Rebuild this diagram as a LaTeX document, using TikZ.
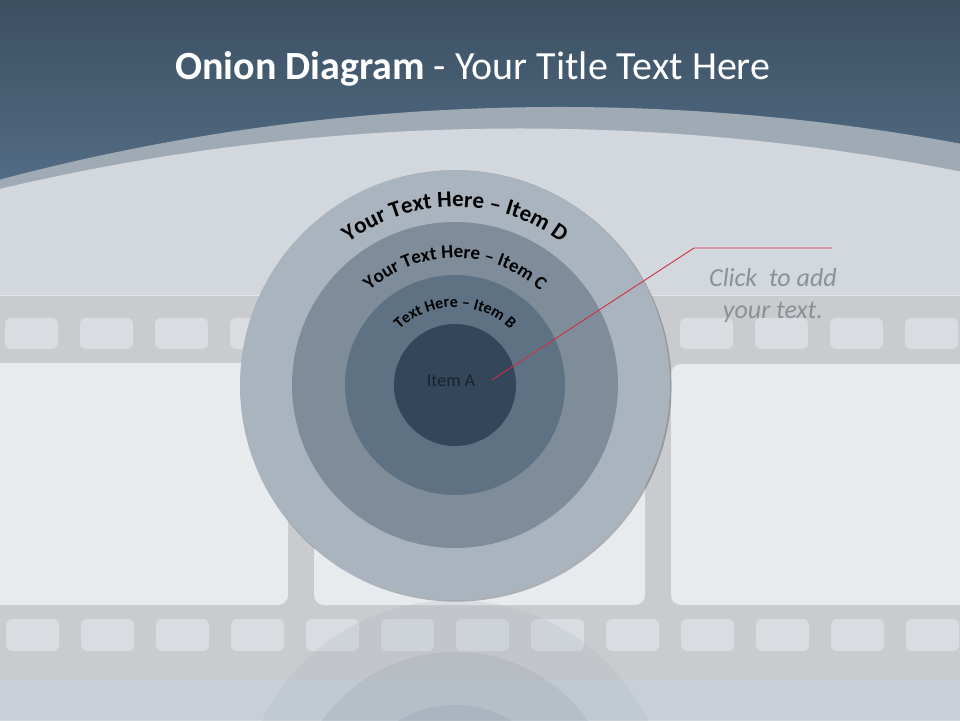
\documentclass[tikz,border=0pt]{standalone}
\usepackage{fontspec}
\setmainfont{Carlito}
\usetikzlibrary{decorations.text}
\definecolor{hdrtop}{HTML}{3B4F61}
\definecolor{hdrbot}{HTML}{526C84}
\definecolor{bandc}{HTML}{A0AAB4}
\definecolor{lightc}{HTML}{D3D8DE}
\definecolor{stripc}{HTML}{C9CBCE}
\definecolor{holec}{HTML}{D9DDE2}
\definecolor{framec}{HTML}{E8EBEE}
\definecolor{bottomc}{HTML}{C8CFD7}
\definecolor{cD}{HTML}{AAB4BE}
\definecolor{cC}{HTML}{7F8D9A}
\definecolor{cB}{HTML}{5F7283}
\definecolor{cA}{HTML}{34475A}
\definecolor{clickgray}{HTML}{8C9097}
\definecolor{redl}{HTML}{D03040}
\definecolor{itemtext}{HTML}{18222C}
\tikzset{
  ring/.style={circle, inner sep=0pt, outer sep=0pt, draw=none},
  holebox/.style={fill=holec, rounded corners=6pt},
  framebox/.style={fill=framec, rounded corners=10pt},
  redline/.style={draw=redl, line width=0.9pt},
  arctext/.style={decorate, decoration={text along path, text align=center, text color=black}},
  clicktext/.style={anchor=base, text=clickgray, font=\itshape\fontsize{26}{30}\selectfont},
}
\begin{document}
\begin{tikzpicture}[x=1pt,y=1pt]
\useasboundingbox (0,0) rectangle (960,720);
\begin{scope}
\clip (0,0) rectangle (960,720);
% header gradient
\fill[hdrbot] (0,0) rectangle (960,720);
\shade[top color=hdrtop, bottom color=hdrbot] (0,540) rectangle (960,720);
% band and light region
\fill[bandc] (560,-1567) circle[radius=2180];
\fill[lightc] (520,-1658.5) circle[radius=2250];
% film strip
\fill[stripc] (0,40) rectangle (960,425);
\draw[white, opacity=0.5, line width=0.8pt] (0,425) -- (960,425);
\foreach \i in {0,...,12} {
  \fill[holebox] (5+75*\i,371) rectangle +(53,31);
  \fill[holebox] (6+75*\i,69) rectangle +(53,32);
}
\fill[framebox] (-20,115) rectangle (288,357);
\fill[framebox] (314,115) rectangle (645,357);
\fill[framebox] (671,115) rectangle (980,356);
\fill[bottomc] (0,0) rectangle (960,40);
% reflection
\begin{scope}
\clip (0,0) rectangle (960,120);
\fill[cD, opacity=0.22] (455,-95) circle[radius=215];
\fill[cC, opacity=0.16] (455,-95) circle[radius=163];
\fill[cB, opacity=0.12] (455,-95) circle[radius=110];
\end{scope}
\end{scope}
% onion
\fill[black, opacity=0.25] (456,334) circle[radius=215.6];
\node[ring, fill=cD, minimum size=430pt] (D) at (455,335) {};
\node[ring, fill=cC, minimum size=326pt] (C) at (455,335) {};
\node[ring, fill=cB, minimum size=220pt] (B) at (455,335) {};
\node[ring, fill=cA, minimum size=122pt] (A) at (455,335) {};
% curved labels
\path[arctext, decoration={text={|\bfseries\fontsize{23}{26}\selectfont|Your Text Here – Item D}}]
  (D.center) ++(170:178) arc[start angle=170, end angle=10, radius=178];
\path[arctext, decoration={text={|\bfseries\fontsize{19}{22}\selectfont|Your Text Here – Item C}}]
  (C.center) ++(170:127) arc[start angle=170, end angle=10, radius=127];
\path[arctext, decoration={text={|\bfseries\fontsize{16}{19}\selectfont|Text Here – Item B}}]
  (B.center) ++(170:78) arc[start angle=170, end angle=10, radius=78];
\node[anchor=base, text=itemtext, font=\fontsize{18}{20}\selectfont] (itemA) at (451,333) {Item A};
% callout
\coordinate (pA) at (492,340);
\coordinate (pK) at (694,472);
\coordinate (pE) at (832,472);
\draw[redline] (pA) -- (pK) -- (pE);
\node[clicktext] (click1) at (773,433) {Click\ \ to add};
\node[clicktext] (click2) at (773,401) {your text.};
% title
\node[anchor=base west, text=white, font=\fontsize{40}{44}\selectfont, inner sep=0pt] (title) at (175,640) {\textbf{Onion Diagram} - Your Title Text Here};
\end{tikzpicture}
\end{document}
